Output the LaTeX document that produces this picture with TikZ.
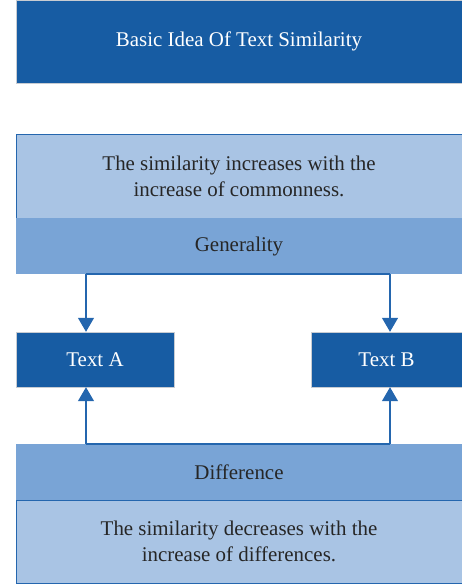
\documentclass[tikz,border=0pt]{standalone}
\usepackage{fontspec}
\setmainfont{Liberation Serif}
\usepackage{tikz}
\usetikzlibrary{arrows.meta,positioning}

\definecolor{darkblue}{HTML}{175CA3}
\definecolor{midblue}{HTML}{79A4D6}
\definecolor{paleblue}{HTML}{A9C4E4}
\definecolor{lineblue}{HTML}{2466AE}
\definecolor{greyline}{HTML}{C8CCD2}

\tikzset{
  base/.style={rectangle, inner sep=0pt, align=center, font=\fontsize{21}{26}\selectfont},
  headbox/.style={base, fill=darkblue, draw=greyline, text=white},
  notebox/.style={base, fill=paleblue, draw=lineblue, text=black!85},
  tagbox/.style={base, fill=midblue, draw=none, text=black!85},
  textbox/.style={base, fill=darkblue, draw=greyline, text=white},
  link/.style={lineblue, line width=1.2bp},
  arr/.style={link, -{Triangle[length=14bp,width=16bp]}}
}

\begin{document}
\begin{tikzpicture}[x=1bp,y=-1bp]
        \useasboundingbox (0,0) rectangle (462,586);

        % title
        \node[headbox, minimum width=446bp, minimum height=83bp] (title) at (239,41.5) {Basic Idea Of Text Similarity};

        % commonness part
        \node[notebox, minimum width=446bp, minimum height=84bp] (common) at (239,176) {The similarity increases with the\\increase of commonness.};
        \node[tagbox, minimum width=446bp, minimum height=56bp] (general) at (239,246) {Generality};

        % the two texts
        \node[textbox, minimum width=158bp, minimum height=55bp] (texta) at (95,359.5) {Text A};
        \node[textbox, minimum width=151bp, minimum height=55bp] (textb) at (386.5,359.5) {Text B};

        % difference part
        \node[tagbox, minimum width=446bp, minimum height=56bp] (diff) at (239,472) {Difference};
        \node[notebox, minimum width=446bp, minimum height=83bp] (decrease) at (239,541.5) {The similarity decreases with the\\increase of differences.};

        \coordinate (ga) at (86,274);
        \coordinate (gb) at (390,274);
        \coordinate (da) at (86,444);
        \coordinate (db) at (390,444);

        % connectors
        \draw[link] (ga) -- (gb);
        \draw[arr] (ga) -- (ga |- texta.north);
        \draw[arr] (gb) -- (gb |- textb.north);
        \draw[link] (da) -- (db);
        \draw[arr] (da) -- (da |- texta.south);
        \draw[arr] (db) -- (db |- textb.south);
    \end{tikzpicture}
\end{document}
